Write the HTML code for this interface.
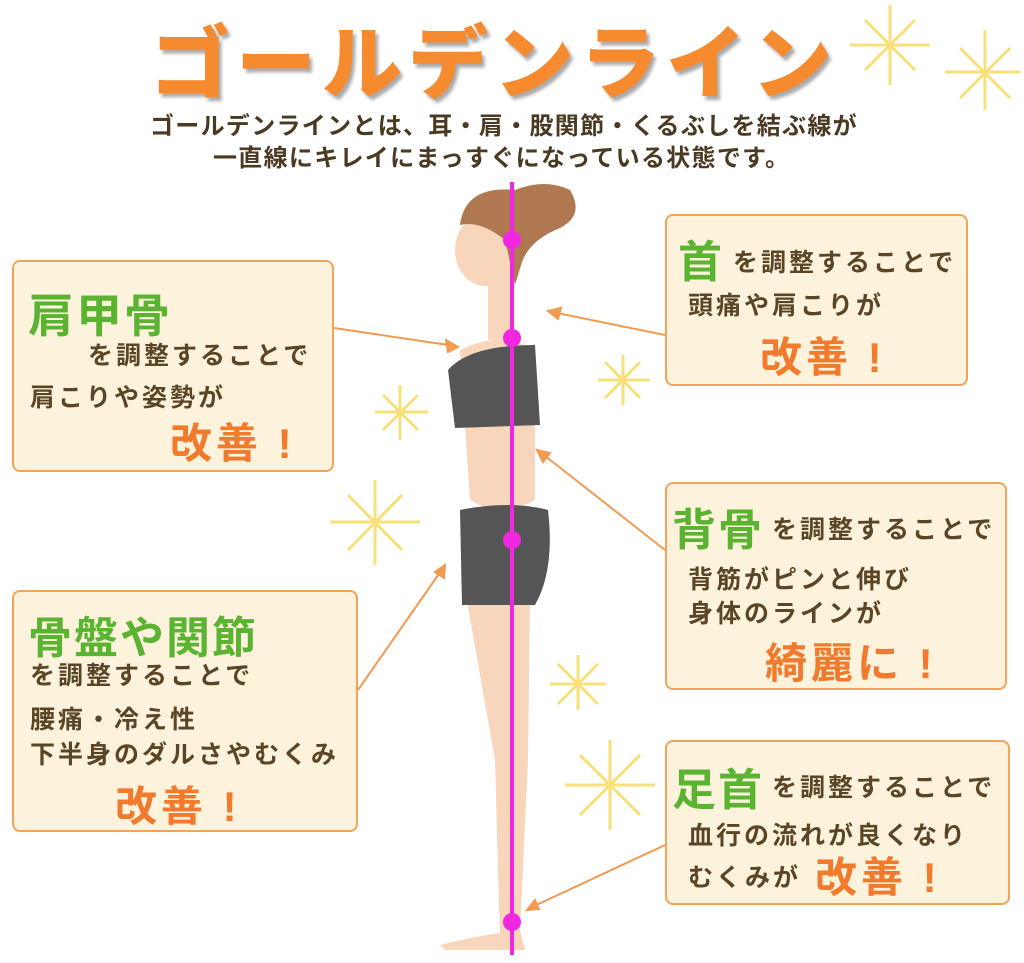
<!DOCTYPE html>
<html><head><meta charset="utf-8"><style>
body{margin:0;width:1024px;height:963px;background:#fff;position:relative;overflow:hidden;font-family:"Liberation Sans","Noto Sans CJK JP",sans-serif;}
.a{position:absolute;white-space:nowrap;}
.box{position:absolute;background:#fdf3dc;border:2px solid #f2a35a;border-radius:8px;box-sizing:border-box;}
.g{color:#5bb332;font-weight:bold;letter-spacing:2px;}
.t{color:#5a4526;font-weight:bold;font-size:25px;letter-spacing:3px;}
.o{color:#f27a2c;font-weight:bold;font-size:42px;letter-spacing:4px;}
</style></head><body>
<div class="a" style="left:150px;top:0px;font-size:80px;font-weight:900;color:#f58a2e;letter-spacing:6px;text-shadow:3px 4px 3px #aaa;">ゴールデンライン</div>
<div class="a" style="left:150px;top:106px;font-size:24px;font-weight:bold;color:#4a3a22;letter-spacing:1.3px;">ゴールデンラインとは、耳・肩・股関節・くるぶしを結ぶ線が</div>
<div class="a" style="left:213px;top:138px;font-size:24px;font-weight:bold;color:#4a3a22;letter-spacing:1.3px;">一直線にキレイにまっすぐになっている状態です。</div>

<svg class="a" style="left:0;top:0" width="1024" height="963">
<g stroke="#f7e07a" stroke-width="3" fill="none">
<path d="M890 5V85M850 45H930M865 20L915 70M915 20L865 70"/>
<path d="M985 30V110M945 72H1020M960 48L1010 98M1010 48L960 98"/>
<path d="M400 385V440M375 412H428M383 395L418 430M418 395L383 430"/>
<path d="M375 480V565M330 522H420M348 495L402 550M402 495L348 550"/>
<path d="M623 355V405M598 380H650M605 362L640 398M640 362L605 398"/>
<path d="M578 655V710M550 684H606M558 664L598 704M598 664L558 704"/>
<path d="M610 740V830M565 785H655M580 755L640 815M640 755L580 815"/>
</g>
<g fill="#f8d6bc">
<ellipse cx="485" cy="250" rx="30" ry="36"/>
<rect x="488" y="270" width="25" height="70"/>
<path d="M460 350 Q500 330 535 350 L535 500 Q500 520 470 500Z"/>
<path d="M465 590 L530 590 L528 760 L520 930 L500 940 L495 760Z"/>
<path d="M440 945 Q480 935 520 930 L525 950 L445 950Z"/>
</g>
<path d="M460 225 Q465 185 515 190 Q545 178 570 190 Q585 215 560 228 Q530 240 522 262 L515 285 L505 240 Q480 220 460 225Z" fill="#b07850"/>
<path d="M448 370 Q470 345 535 345 L540 425 L455 428Z" fill="#555"/>
<path d="M460 510 Q510 500 548 510 Q555 570 535 605 L462 605Z" fill="#555"/>
<g stroke="#f19a50" stroke-width="2" fill="#f19a50">
<line x1="334" y1="328" x2="455" y2="346"/><path d="M458 347 l-12 -7 2 12z"/>
<line x1="665" y1="335" x2="552" y2="312"/><path d="M548 311 l13 -3 -3 11z"/>
<line x1="665" y1="550" x2="540" y2="452"/><path d="M537 450 l13 3 -7 9z"/>
<line x1="358" y1="690" x2="443" y2="568"/><path d="M445 565 l-1 13 -9 -6z"/>
<line x1="665" y1="845" x2="530" y2="908"/><path d="M527 910 l8 -10 4 9z"/>
</g>
<line x1="512" y1="182" x2="512" y2="955" stroke="#f027e0" stroke-width="4"/>
<g fill="#f027e0"><circle cx="512" cy="240" r="9"/><circle cx="512" cy="338" r="9"/><circle cx="512" cy="540" r="9"/><circle cx="512" cy="922" r="9"/></g>
</svg>

<div class="box" style="left:12px;top:260px;width:322px;height:212px;"></div>
<div class="a g" style="left:28px;top:280px;font-size:46px;">肩甲骨</div>
<div class="a t" style="left:88px;top:336px;">を調整することで</div>
<div class="a t" style="left:30px;top:378px;">肩こりや姿勢が</div>
<div class="a o" style="left:170px;top:410px;">改善 !</div>

<div class="box" style="left:12px;top:590px;width:346px;height:242px;"></div>
<div class="a g" style="left:28px;top:602px;font-size:44px;">骨盤や関節</div>
<div class="a t" style="left:30px;top:656px;">を調整することで</div>
<div class="a t" style="left:30px;top:700px;">腰痛・冷え性</div>
<div class="a t" style="left:30px;top:735px;">下半身のダルさやむくみ</div>
<div class="a o" style="left:115px;top:773px;">改善 !</div>

<div class="box" style="left:665px;top:214px;width:303px;height:172px;"></div>
<div class="a g" style="left:678px;top:226px;font-size:44px;">首</div>
<div class="a t" style="left:733px;top:243px;">を調整することで</div>
<div class="a t" style="left:688px;top:286px;">頭痛や肩こりが</div>
<div class="a o" style="left:760px;top:324px;">改善 !</div>

<div class="box" style="left:665px;top:482px;width:342px;height:208px;"></div>
<div class="a g" style="left:672px;top:494px;font-size:44px;">背骨</div>
<div class="a t" style="left:772px;top:510px;">を調整することで</div>
<div class="a t" style="left:688px;top:560px;">背筋がピンと伸び</div>
<div class="a t" style="left:688px;top:594px;">身体のラインが</div>
<div class="a o" style="left:765px;top:630px;">綺麗に !</div>

<div class="box" style="left:665px;top:740px;width:345px;height:165px;"></div>
<div class="a g" style="left:672px;top:754px;font-size:44px;">足首</div>
<div class="a t" style="left:772px;top:768px;">を調整することで</div>
<div class="a t" style="left:688px;top:816px;">血行の流れが良くなり</div>
<div class="a t" style="left:688px;top:858px;">むくみが</div>
<div class="a o" style="left:815px;top:844px;">改善 !</div>
</body></html>
